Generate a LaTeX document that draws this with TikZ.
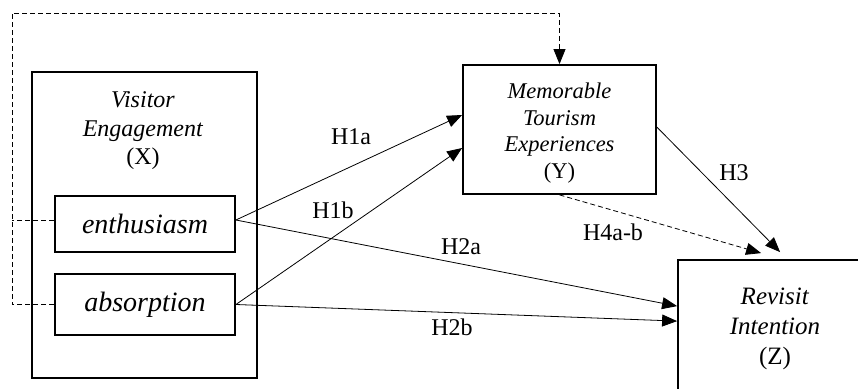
\documentclass[tikz,border=0pt]{standalone}
\usepackage{fontspec}
\setmainfont{Liberation Serif}
\usetikzlibrary{arrows.meta,calc}
\begin{document}
\begin{tikzpicture}[x=1pt,y=-1pt,
 box/.style={draw, line width=1.8pt, inner sep=0pt},
 conn/.style={line width=0.8pt, -{Triangle[length=15pt,width=12pt]}},
 dashline/.style={line width=0.8pt, dash pattern=on 5pt off 3pt},
 dashconn/.style={conn, dash pattern=on 5pt off 3pt},
 lbl/.style={font=\fontsize{24}{28}\selectfont, inner sep=0pt},
]
\useasboundingbox (0,0) rectangle (858,388);
\clip (0,0) rectangle (858,388);
% boxes
\node[box, minimum width=225pt, minimum height=306pt] (X) at (144.5,225) {};
\node[align=center, inner sep=0pt, font=\fontsize{24}{28.5}\selectfont] (Xt) at (143,131) {\textit{Visitor}\\\textit{Engagement}\\(X)};
\node[box, minimum width=180pt, minimum height=56pt, font=\fontsize{28}{32}\selectfont\itshape] (en) at (145,224) {enthusiasm};
\node[box, minimum width=180pt, minimum height=61pt, font=\fontsize{28}{32}\selectfont\itshape] (ab) at (145,304.5) {absorption};
\node[box, minimum width=193pt, minimum height=129pt] (Y) at (559.5,129.5) {};
\node[align=center, inner sep=0pt, font=\fontsize{22.5}{26.7}\selectfont] (Yt) at (559.5,133) {\textit{Memorable}\\\textit{Tourism}\\\textit{Experiences}\\(Y)};
\node[box, minimum width=200pt, minimum height=160pt] (Z) at (778,340) {};
\node[align=center, inner sep=0pt, font=\fontsize{25}{30}\selectfont] (Zt) at (775,329) {\textit{Revisit}\\\textit{Intention}\\(Z)};
% connectors
\draw[conn] ([yshift=4pt]en.east) -- ([yshift=14.5pt]Y.west);
\draw[conn] (ab.east) -- ([yshift=-18.5pt]Y.west);
\draw[conn] ([yshift=4pt]en.east) -- ($(Z.north west)+(0,47)$);
\draw[conn] (ab.east) -- ($(Z.north west)+(0,62)$);
\draw[conn] ($(Y.north east)+(0,63)$) -- ($(Z.north west)+(103,-7)$);
\draw[dashconn] (Y.south) -- ($(Z.north west)+(84,-6)$);
% dashed loop
\coordinate (c) at (12,13);
\draw[dashline] ([yshift=4pt]en.west) -- ([yshift=4pt]en.west -| c);
\draw[dashconn] (ab.west) -- (ab.west -| c) -- (c) -| (Y.north);
% labels
\node[lbl] (l1) at (351,137) {H1a};
\node[lbl] (l2) at (333,210) {H1b};
\node[lbl] (l3) at (461,247) {H2a};
\node[lbl] (l4) at (452,327) {H2b};
\node[lbl] (l5) at (734,173) {H3};
\node[lbl] (l6) at (613,232) {H4a-b};
\end{tikzpicture}
\end{document}
